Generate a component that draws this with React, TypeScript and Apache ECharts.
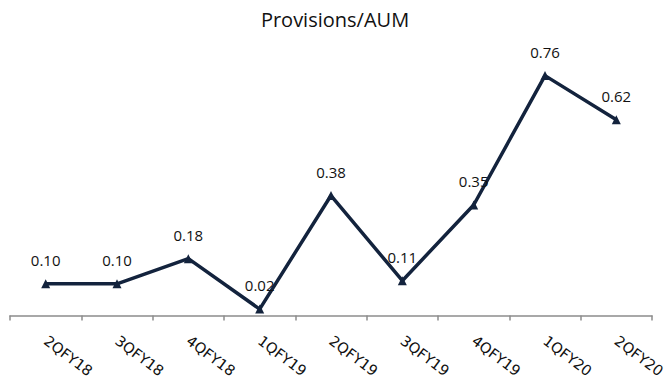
import React, { useEffect, useRef } from "react";
import * as echarts from "echarts";

const categories = ["2QFY18", "3QFY18", "4QFY18", "1QFY19", "2QFY19", "3QFY19", "4QFY19", "1QFY20", "2QFY20"];
const provisions = [0.10, 0.10, 0.18, 0.02, 0.38, 0.11, 0.35, 0.76, 0.62];

const FONT = "'Open Sans', 'Noto Sans', sans-serif";
const AXIS_FONT = "'DejaVu Sans', Verdana, sans-serif";

export default function App() {
  const ref = useRef<HTMLDivElement>(null);

  useEffect(() => {
    if (!ref.current) return;
    const chart = echarts.init(ref.current, undefined, { renderer: "svg" });
    chart.setOption({
      animation: false,
      backgroundColor: "#ffffff",
      title: {
        text: "Provisions/AUM",
        left: "center",
        top: 4,
        textStyle: { fontFamily: FONT, fontSize: 20, fontWeight: "normal", color: "#111111" },
      },
      grid: { left: 10, right: 18, top: 63, bottom: 72, containLabel: false },
      xAxis: {
        type: "category",
        data: categories,
        boundaryGap: true,
        axisLine: { lineStyle: { color: "#8c8c8c", width: 1.5 } },
        axisTick: { show: true, length: 5, alignWithLabel: false, lineStyle: { color: "#8c8c8c", width: 1.5 } },
        axisLabel: {
          rotate: -37,
          margin: 22,
          fontFamily: AXIS_FONT,
          fontSize: 14.5,
          color: "#111111",
          interval: 0,
        },
      },
      yAxis: {
        type: "value",
        min: -0.005,
        max: 0.8,
        show: false,
        splitLine: { show: false },
      },
      series: [
        {
          type: "line",
          data: provisions,
          symbol: "triangle",
          symbolSize: 9,
          lineStyle: { color: "#13233d", width: 3.5 },
          itemStyle: { color: "#13233d" },
          label: {
            show: true,
            position: "top",
            distance: 12,
            formatter: (p: any) => p.value.toFixed(2),
            fontFamily: FONT,
            fontSize: 15,
            color: "#111111",
          },
        },
      ],
    });
    return () => chart.dispose();
  }, []);

  return <div ref={ref} style={{ width: 670, height: 389, position: "absolute", left: 0, top: 0 }} />;
}
